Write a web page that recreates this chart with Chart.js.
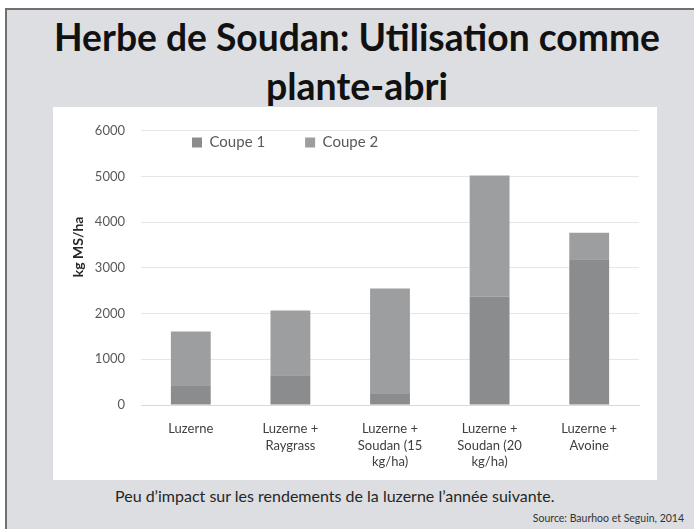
<!DOCTYPE html>
<html>
<head>
<meta charset="utf-8">
<script src="https://cdn.jsdelivr.net/npm/chart.js@4.4.1/dist/chart.umd.min.js"></script>
<style>
  html, body { margin: 0; padding: 0; width: 694px; height: 529px; overflow: hidden; background: #ffffff; font-family: Lato, "DejaVu Sans", sans-serif; }
  #slide { position: absolute; left: 5px; top: 8px; width: 720px; height: 560px; background: #dcdee1; border-top: 2px solid #6f7072; border-left: 2px solid #6f7072; box-sizing: border-box; }
  .title { position: absolute; left: 357px; text-align: center; color: #111; font-size: 38px; font-weight: bold; line-height: 43px; white-space: nowrap; transform-origin: 0 0; }
  #box { position: absolute; left: 53px; top: 107px; width: 604px; height: 373px; background: #ffffff; }
  #note { position: absolute; left: 115px; top: 486px; font-size: 16px; color: #262626; white-space: nowrap; }
  #src { position: absolute; right: 10px; top: 512px; font-size: 10.5px; color: #333; white-space: nowrap; }
</style>
</head>
<body>
<div id="slide"></div>
<div class="title" id="t1" style="top:15px;" data-w="606">Herbe de Soudan: Utilisation comme</div>
<div class="title" id="t2" style="top:64px;" data-w="182">plante-abri</div>
<div id="box"><canvas id="c" width="604" height="373"></canvas></div>
<div id="note">Peu d’impact sur les rendements de la luzerne l’année suivante.</div>
<div id="src">Source: Baurhoo et Seguin, 2014</div>
<script>
const categories = [
  ['Luzerne'],
  ['Luzerne +', 'Raygrass'],
  ['Luzerne +', 'Soudan (15', 'kg/ha)'],
  ['Luzerne +', 'Soudan (20', 'kg/ha)'],
  ['Luzerne +', 'Avoine']
];
const seriesNames = ['Coupe 1', 'Coupe 2'];
const coupe1 = [430, 650, 240, 2370, 3190];
const coupe2 = [1180, 1420, 2310, 2650, 580];
const yMin = 0, yMax = 6000, yStep = 1000;
const yTitle = 'kg MS/ha';

// fit title lines to the reference widths (centered on x=357)
document.querySelectorAll('.title').forEach(el => {
  const w = el.getBoundingClientRect().width;
  const k = parseFloat(el.dataset.w) / w;
  el.style.transform = 'translateX(' + (-w * k / 2) + 'px) scaleX(' + k + ')';
});

Chart.defaults.font.family = 'Lato, "DejaVu Sans", sans-serif';

const placePlugin = {
  id: 'place',
  beforeLayout(chart) {
    const lg = chart.legend;
    if (lg && !lg._patched) {
      const origFit = lg.fit.bind(lg);
      lg.fit = function () { origFit(); this._realHeight = this.height; this.height = 0; };
      lg._patched = true;
    }
  },
  afterLayout(chart) {
    const lg = chart.legend;
    if (lg) {
      const w = lg.right - lg.left;
      lg.left = 99; lg.right = 99 + w;
      lg.top = -12; lg.height = 90; lg.bottom = lg.top + 90;
    }
    const ys = chart.scales.y;
    if (ys && !ys._shifted) {
      const orig = ys.drawTitle.bind(ys);
      ys.drawTitle = function () {
        const ctx = this.ctx;
        ctx.save();
        ctx.translate(0, -21);
        orig();
        ctx.restore();
      };
      ys._shifted = true;
    }
  }
};

new Chart(document.getElementById('c'), {
  type: 'bar',
  data: {
    labels: categories,
    datasets: [
      { label: seriesNames[0], data: coupe1, backgroundColor: '#8b8c8d', borderColor: '#8b8c8d', borderWidth: 0 },
      { label: seriesNames[1], data: coupe2, backgroundColor: '#9d9e9f', borderColor: '#9d9e9f', borderWidth: 0 }
    ]
  },
  options: {
    responsive: false,
    animation: false,
    events: [],
    datasets: { bar: { barPercentage: 0.4, categoryPercentage: 1.0 } },
    layout: { padding: { top: 19, right: 18, left: 0, bottom: 0 } },
    plugins: {
      tooltip: { enabled: false },
      legend: {
        position: 'top',
        align: 'start',
        labels: { boxWidth: 10, boxHeight: 10, padding: 40, color: '#595959', font: { size: 15 } }
      }
    },
    scales: {
      x: {
        stacked: true,
        grid: { display: false, drawTicks: false },
        border: { display: true, color: '#d9d9d9' },
        ticks: { padding: 16, color: '#404040', font: { size: 13, lineHeight: 1.25 }, maxRotation: 0, autoSkip: false },
        afterFit(s) { s.height = 75; }
      },
      y: {
        stacked: true,
        min: yMin, max: yMax,
        ticks: { stepSize: yStep, padding: 16, color: '#595959', font: { size: 13 }, callback: v => String(v) },
        grid: { color: '#e6e6e6', drawTicks: false },
        border: { display: false },
        title: { display: true, text: yTitle, color: '#262626', font: { size: 14, weight: 'bold' }, padding: { top: 17, bottom: 0 } },
        afterFit(s) { s.width = 88; }
      }
    }
  },
  plugins: [placePlugin]
});
</script>
</body>
</html>
